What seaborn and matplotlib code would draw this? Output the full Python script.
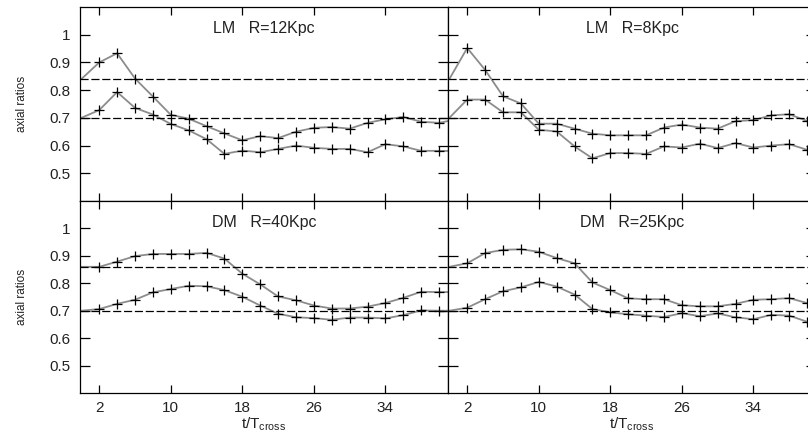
import numpy as np
import matplotlib
matplotlib.use("Agg")
import matplotlib.pyplot as plt
import seaborn as sns

# time axis (t/T_cross), one snapshot every 2 units
t = list(range(0, 44, 2))

# LM R=12Kpc
lm12_up = [0.84, 0.90, 0.933, 0.842, 0.777, 0.711, 0.697, 0.670, 0.644, 0.619, 0.634,
           0.627, 0.650, 0.664, 0.667, 0.661, 0.682, 0.695, 0.703, 0.686, 0.682, 0.695]
lm12_lo = [0.70, 0.728, 0.793, 0.736, 0.712, 0.678, 0.655, 0.623, 0.570, 0.582, 0.576,
           0.588, 0.600, 0.592, 0.588, 0.588, 0.576, 0.605, 0.597, 0.581, 0.581, 0.58]
# LM R=8Kpc
lm8_up = [0.84, 0.952, 0.873, 0.778, 0.752, 0.679, 0.679, 0.661, 0.643, 0.637, 0.637,
          0.637, 0.665, 0.676, 0.665, 0.661, 0.688, 0.692, 0.709, 0.713, 0.689, 0.68]
lm8_lo = [0.70, 0.766, 0.766, 0.720, 0.720, 0.657, 0.651, 0.597, 0.554, 0.573, 0.573,
          0.570, 0.597, 0.593, 0.607, 0.591, 0.609, 0.593, 0.600, 0.605, 0.585, 0.58]
# DM R=40Kpc
dm40_up = [0.86, 0.86, 0.879, 0.899, 0.907, 0.907, 0.907, 0.911, 0.890, 0.835, 0.796,
           0.752, 0.738, 0.719, 0.708, 0.708, 0.715, 0.728, 0.747, 0.769, 0.768, 0.768]
dm40_lo = [0.70, 0.706, 0.725, 0.740, 0.767, 0.779, 0.791, 0.789, 0.775, 0.751, 0.719,
           0.689, 0.676, 0.673, 0.667, 0.675, 0.675, 0.672, 0.684, 0.701, 0.700, 0.700]
# DM R=25Kpc
dm25_up = [0.86, 0.873, 0.910, 0.922, 0.924, 0.915, 0.892, 0.873, 0.803, 0.775, 0.745,
           0.742, 0.742, 0.720, 0.716, 0.716, 0.725, 0.740, 0.742, 0.746, 0.728, 0.72]
dm25_lo = [0.70, 0.711, 0.742, 0.771, 0.785, 0.805, 0.788, 0.759, 0.706, 0.694, 0.687,
           0.682, 0.677, 0.691, 0.680, 0.690, 0.676, 0.669, 0.685, 0.682, 0.660, 0.65]

titles = ["LM   R=12Kpc", "LM   R=8Kpc", "DM   R=40Kpc", "DM   R=25Kpc"]
series = [(lm12_up, lm12_lo), (lm8_up, lm8_lo), (dm40_up, dm40_lo), (dm25_up, dm25_lo)]
ref_lines = [(0.84, 0.70), (0.84, 0.70), (0.86, 0.70), (0.86, 0.70)]
xticks = [2, 10, 18, 26, 34]
yticks = [0.5, 0.6, 0.7, 0.8, 0.9, 1.0]

sns.set_theme(style="ticks")
plt.rcParams["font.family"] = ["Liberation Sans", "DejaVu Sans"]
plt.rcParams["mathtext.fontset"] = "custom"
plt.rcParams["mathtext.rm"] = "Liberation Sans"
plt.rcParams["mathtext.it"] = "Liberation Sans"

fig = plt.figure(figsize=(8.08, 4.40), dpi=100)
txt = "#222222"

# panel geometry in figure fractions (right column runs past the figure edge)
x0, w = 80 / 808, 368 / 808
y_top, y_mid, y_bot = 1 - 7 / 440, 1 - 201 / 440, 1 - 393 / 440
rects = [
    [x0, y_mid, w, y_top - y_mid],
    [x0 + w, y_mid, w, y_top - y_mid],
    [x0, y_bot, w, y_mid - y_bot],
    [x0 + w, y_bot, w, y_mid - y_bot],
]

for i, rect in enumerate(rects):
    ax = fig.add_axes(rect)
    up, lo = series[i]
    for s in (up, lo):
        sns.lineplot(x=t, y=s, ax=ax, color="0.55", lw=1.3, marker="+",
                     markersize=6.5, markeredgecolor="black", markeredgewidth=0.9,
                     markevery=slice(1, None))
    for h in ref_lines[i]:
        ax.axhline(h, color="black", lw=0.9, dashes=(6.5, 2.2))
    ax.set_xlim(-0.15, 41.0)
    ax.set_ylim(0.4, 1.1)
    ax.set_xticks(xticks)
    ax.set_yticks(yticks)
    ax.tick_params(direction="in", top=True, right=True, colors="black",
                   labelcolor=txt, labelsize=11, width=0.9)
    ax.tick_params(axis="x", length=5.5, pad=6)
    ax.tick_params(axis="y", length=7, pad=7)
    for sp in ax.spines.values():
        sp.set_linewidth(0.9)
        sp.set_color("black")
    ax.text(0.5, 0.89, titles[i], transform=ax.transAxes, ha="center",
            va="center", fontsize=11.5, color=txt)
    if i % 2 == 0:
        ax.set_yticklabels(["0.5", "0.6", "0.7", "0.8", "0.9", "1"])
        ax.set_ylabel("axial ratios", fontsize=8.5, color=txt, labelpad=15)
    else:
        ax.set_yticklabels([])
        ax.set_ylabel("")
    if i >= 2:
        ax.set_xticklabels([str(v) for v in xticks])
        ax.set_xlabel(r"t/T$_{\mathrm{cross}}$", fontsize=11, color=txt, labelpad=0)
    else:
        ax.set_xticklabels([])
        ax.set_xlabel("")

fig.savefig("out.png", dpi=100)
